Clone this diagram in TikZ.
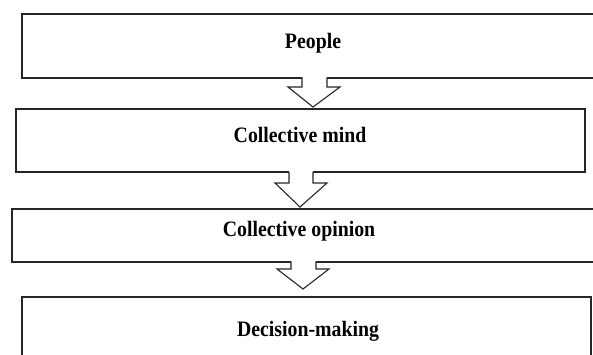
\documentclass[tikz,border=0pt]{standalone}
\usepackage{fontspec}
\setmainfont{Liberation Serif}
\newfontfamily\lblfont{Liberation Serif}[FakeStretch=0.9]
\begin{document}
\begin{tikzpicture}[x=1pt,y=-1pt,
  boxstyle/.style={draw=black!85,line width=1.4pt,fill=white},
  lbl/.style={font=\lblfont\fontsize{22}{24}\selectfont\bfseries,inner sep=0pt},
  blk/.style={draw=black!85,line width=1.1pt,line join=miter}]
\useasboundingbox (0,0) rectangle (593,354);
\begin{scope}
\clip (0,0) rectangle (593,354);
\draw[boxstyle] (22,14) rectangle (600,78);
\draw[boxstyle] (16,109) rectangle (585,172);
\draw[boxstyle] (12,209) rectangle (600,262);
\draw[boxstyle] (22,297) rectangle (591,360);
\end{scope}
\node[lbl] (people) at (313,43) {People};
\node[lbl] (mind) at (300,135) {Collective mind};
\node[lbl] (opinion) at (299,231) {Collective opinion};
\node[lbl] (decision) at (308,331) {Decision-making};
% block arrows
\foreach \yt/\ys/\xl/\xr/\hl/\hr/\tx/\ty in {78/87/302/327/288/340/313/107, 172.5/183/289/313/275/327/300/207, 262/269/291/316/277/329/303/289}{
  \fill[white] (\xl,\yt-1.5) -- (\xl,\ys) -- (\hl,\ys) -- (\tx,\ty) -- (\hr,\ys) -- (\xr,\ys) -- (\xr,\yt-1.5) -- cycle;
  \draw[blk] (\xl,\yt-0.6) -- (\xl,\ys) -- (\hl,\ys) -- (\tx,\ty) -- (\hr,\ys) -- (\xr,\ys) -- (\xr,\yt-0.6);
}
\end{tikzpicture}
\end{document}
